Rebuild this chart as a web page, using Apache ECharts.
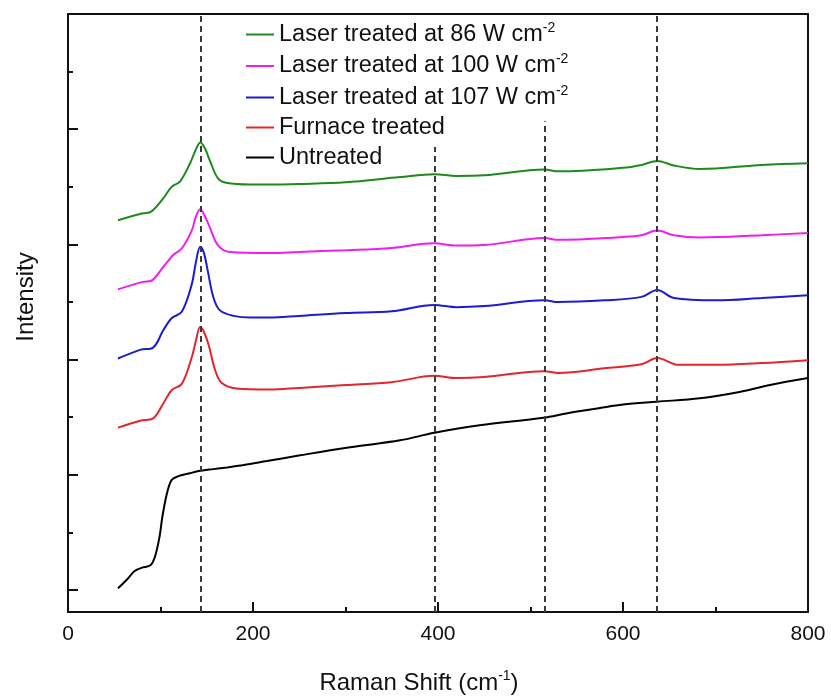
<!DOCTYPE html>
<html>
<head>
<meta charset="utf-8">
<script src="https://cdn.jsdelivr.net/npm/echarts@6/dist/echarts.min.js"></script>
<style>
  html, body { margin: 0; padding: 0; background: #fff; }
  #chart { width: 831px; height: 697px; }
</style>
</head>
<body>
<div id="chart"></div>
<script>
// Raman spectra (offset intensity, a.u.) — [Raman shift cm-1, intensity]
const laser86 = [
  [54, 6.42], [81, 6.54], [90, 6.57], [103, 6.80], [112, 7.00], [121, 7.09], [132, 7.41],
  [138, 7.64], [143, 7.77], [148, 7.67], [153, 7.47], [162, 7.15], [171, 7.07], [197, 7.04],
  [218, 7.04], [250, 7.05], [300, 7.08], [359, 7.17], [396, 7.22], [420, 7.19], [450, 7.20],
  [515, 7.30], [530, 7.27], [600, 7.33], [620, 7.38], [637, 7.45], [655, 7.37], [683, 7.31],
  [750, 7.38], [800, 7.41]
];
const laser100 = [
  [54, 5.22], [81, 5.35], [90, 5.37], [103, 5.61], [114, 5.82], [123, 5.93], [134, 6.25],
  [138, 6.47], [143, 6.61], [148, 6.49], [153, 6.31], [162, 5.99], [175, 5.87], [218, 5.85],
  [250, 5.87], [300, 5.90], [350, 5.94], [396, 6.02], [420, 5.98], [450, 5.99], [515, 6.11],
  [530, 6.08], [600, 6.13], [620, 6.16], [637, 6.24], [655, 6.16], [683, 6.12], [750, 6.16],
  [800, 6.20]
];
const laser107 = [
  [54, 4.02], [78, 4.17], [92, 4.21], [103, 4.51], [112, 4.72], [123, 4.83], [134, 5.32],
  [138, 5.67], [143, 5.96], [147, 5.85], [151, 5.55], [157, 5.09], [164, 4.86], [179, 4.76],
  [197, 4.73], [218, 4.73], [250, 4.76], [300, 4.81], [350, 4.84], [396, 4.95], [420, 4.91],
  [450, 4.93], [515, 5.03], [530, 5.00], [580, 5.03], [620, 5.09], [637, 5.21], [655, 5.07],
  [700, 5.03], [750, 5.07], [800, 5.12]
];
const furnace = [
  [54, 2.82], [78, 2.94], [92, 2.98], [103, 3.24], [112, 3.47], [123, 3.58], [134, 4.05],
  [138, 4.31], [143, 4.57], [147, 4.48], [152, 4.26], [159, 3.82], [166, 3.60], [182, 3.50],
  [218, 3.48], [250, 3.51], [300, 3.56], [350, 3.61], [396, 3.72], [420, 3.68], [450, 3.70],
  [515, 3.80], [530, 3.77], [580, 3.85], [620, 3.92], [637, 4.03], [660, 3.91], [700, 3.91],
  [750, 3.94], [800, 3.99]
];
const untreated = [
  [54, 0.03], [63, 0.17], [72, 0.33], [80, 0.39], [89, 0.43], [94, 0.58], [99, 0.93],
  [102, 1.27], [107, 1.68], [112, 1.91], [118, 1.97], [132, 2.03], [143, 2.07], [157, 2.10],
  [172, 2.13], [190, 2.17], [215, 2.24], [251, 2.34], [305, 2.48], [359, 2.60],
  [396, 2.73], [445, 2.86], [514, 2.99], [540, 3.07], [575, 3.16], [600, 3.22], [637, 3.27],
  [683, 3.33], [726, 3.44], [759, 3.56], [800, 3.68]
];

// Anatase reference bands (cm-1) marked with dashed lines
const anatasePeaks = [143, 396, 515, 637];

const seriesNames = [
  'Laser treated at 86 W cm-2',
  'Laser treated at 100 W cm-2',
  'Laser treated at 107 W cm-2',
  'Furnace treated',
  'Untreated'
];
const xTickLabels = ['0', '200', '400', '600', '800'];

const Y_MIN = -0.38, Y_MAX = 10;
// upper end of each dashed guide (kept clear of the legend text)
const guideTops = [Y_MAX, 7.69, 8.14, Y_MAX];

const FONT = '"Liberation Sans", Arial, sans-serif';
const colors = ['#1e8a1e', '#ee1fee', '#1c1cd0', '#e2262a', '#000000'];
const spectra = [laser86, laser100, laser107, furnace, untreated];

const chart = echarts.init(document.getElementById('chart'), null, { renderer: 'canvas' });

const series = spectra.map((d, i) => ({
  name: seriesNames[i],
  type: 'line',
  xAxisIndex: 0,
  yAxisIndex: 0,
  data: d,
  symbol: 'none',
  smooth: 0.35,
  z: 3,
  lineStyle: { color: colors[i], width: 2 },
  itemStyle: { color: colors[i] }
}));

// dashed guides carried by an empty helper series
series.push({
  type: 'line',
  data: [],
  xAxisIndex: 0,
  yAxisIndex: 0,
  silent: true,
  markLine: {
    silent: true,
    symbol: 'none',
    label: { show: false },
    lineStyle: { color: '#3a3a3a', width: 2, type: [6, 4] },
    data: anatasePeaks.map((p, i) => [
      { coord: [p, Y_MIN] },
      { coord: [p, guideTops[i]] }
    ])
  }
});

function legendText(name) {
  const m = name.match(/^(.*) cm-2$/);
  if (m) return '{t|' + m[1] + ' cm}{s|-2}';
  return '{t|' + name + '}';
}

chart.setOption({
  animation: false,
  backgroundColor: '#fff',
  grid: [
    { left: 68, top: 14, right: 23, bottom: 85, outerBoundsMode: 'none', containLabel: false },
    // grid carrying only the left-side intensity ticks
    { left: 68, top: 14, right: 23, bottom: 107, outerBoundsMode: 'none', containLabel: false }
  ],
  legend: {
    orient: 'vertical',
    left: 241,
    top: 16,
    itemWidth: 28,
    itemHeight: 2,
    itemGap: 6,
    icon: 'rect',
    data: seriesNames,
    formatter: legendText,
    textStyle: {
      color: '#111',
      rich: {
        t: { fontSize: 23.5, fontFamily: FONT, color: '#111', lineHeight: 27 },
        s: { fontSize: 14, fontFamily: FONT, color: '#111', verticalAlign: 'top', lineHeight: 12 }
      }
    }
  },
  xAxis: [
    {
      type: 'value', gridIndex: 0, min: 0, max: 800, interval: 200,
      position: 'bottom',
      name: '{t|Raman Shift (cm}{s|-1}{t|)}',
      nameLocation: 'middle',
      nameGap: 57,
      nameTextStyle: {
        padding: [0, 38, 0, 0],
        rich: {
          t: { fontSize: 24, fontFamily: FONT, color: '#111', lineHeight: 28 },
          s: { fontSize: 14, fontFamily: FONT, color: '#111', verticalAlign: 'top', lineHeight: 14 }
        }
      },
      axisLine: { show: true, onZero: false, lineStyle: { color: '#111', width: 2 } },
      axisTick: { show: true, inside: true, length: 10, lineStyle: { color: '#111', width: 2 } },
      minorTick: { show: true, splitNumber: 2, length: 5, lineStyle: { color: '#111', width: 2 } },
      axisLabel: {
        margin: 12, fontSize: 21, fontFamily: FONT, color: '#111',
        formatter: v => xTickLabels[Math.round(v / 200)]
      },
      splitLine: { show: false }
    },
    {
      type: 'value', gridIndex: 0, min: 0, max: 800, position: 'top',
      axisLine: { show: true, onZero: false, lineStyle: { color: '#111', width: 2 } },
      axisTick: { show: false }, axisLabel: { show: false }, splitLine: { show: false }
    },
    {
      type: 'value', gridIndex: 1, min: 0, max: 800, show: false
    }
  ],
  yAxis: [
    {
      type: 'value', gridIndex: 0, min: Y_MIN, max: Y_MAX, position: 'left',
      name: 'Intensity',
      nameLocation: 'middle',
      nameGap: 30,
      nameRotate: 90,
      nameTextStyle: { fontSize: 24, fontFamily: FONT, color: '#111', padding: [0, 0, 0, 32] },
      axisLine: { show: true, onZero: false, lineStyle: { color: '#111', width: 2 } },
      axisTick: { show: false }, axisLabel: { show: false }, splitLine: { show: false }
    },
    {
      type: 'value', gridIndex: 0, min: Y_MIN, max: Y_MAX, position: 'right',
      axisLine: { show: true, onZero: false, lineStyle: { color: '#111', width: 2 } },
      axisTick: { show: false }, axisLabel: { show: false }, splitLine: { show: false }
    },
    {
      type: 'value', gridIndex: 1, min: 0, max: 10, interval: 2, position: 'left',
      axisLine: { show: false },
      axisTick: { show: true, inside: true, length: 10, lineStyle: { color: '#111', width: 2 } },
      minorTick: { show: true, splitNumber: 2, length: 5, lineStyle: { color: '#111', width: 2 } },
      axisLabel: { show: false }, splitLine: { show: false }
    }
  ],
  series: series
});
</script>
</body>
</html>
